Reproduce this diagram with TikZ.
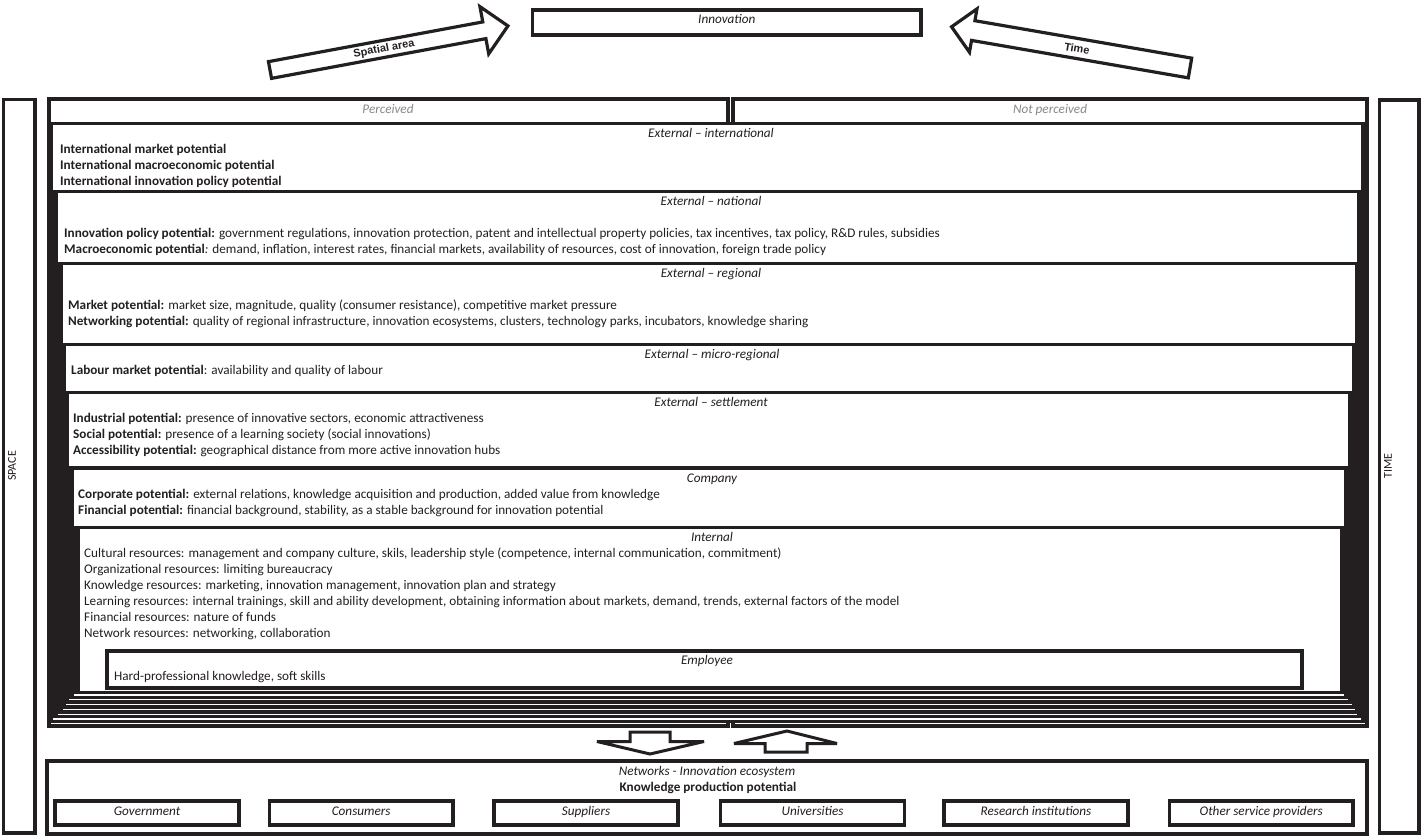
\documentclass[tikz,border=0pt]{standalone}
\usepackage{fontspec}
\setmainfont{Carlito}
\newfontfamily\arrowfont{Liberation Sans}
\definecolor{ink}{RGB}{35,31,32}
\definecolor{greytxt}{RGB}{137,137,137}
\def\bdw{3.6}
\newcommand\nestbox[6]{%
  \fill[ink] (#1,#3) rectangle (#2,#4);
  \fill[white] (#5,{#3+\bdw}) rectangle (#6,{#4-\bdw});}
\newcommand\txtsize{\fontsize{13.2}{15}\selectfont}
\begin{document}
\begin{tikzpicture}[x=1pt,y=-1pt,
  body/.style={anchor=base west, inner sep=0pt, text=ink, font=\txtsize},
  head/.style={anchor=base, inner sep=0pt, text=ink, font=\txtsize\itshape},
  frame/.style={draw=ink, line width=3.6pt, fill=white},
  blockarrow/.style={draw=ink, line width=3.2pt, fill=white, line join=miter, miter limit=6},
  arrowlabel/.style={inner sep=0pt, text=ink, font=\arrowfont\bfseries\fontsize{11}{13}\selectfont},
  sidelabel/.style={inner sep=0pt, text=ink, rotate=90, font=\fontsize{12}{14}\selectfont},
  actor/.style={frame, minimum width=183.8pt, minimum height=23.8pt, text height=7pt, text depth=3pt, inner sep=0pt, text=ink, font=\txtsize\itshape}
]
\useasboundingbox (0,0) rectangle (1424,836);
\fill[white] (0,0) rectangle (1424,836);

% side bars
\draw[frame] (3.5,99.3) rectangle (34.9,833.2);
\node[sidelabel] (space) at (12,466) {SPACE};
\draw[frame] (1379.3,99.8) rectangle (1419.2,833.2);
\node[sidelabel] (time) at (1388,466) {TIME};

% innovation and top arrows
\node[frame, minimum width=388.9pt, minimum height=25.4pt, text height=7pt, text depth=5pt, inner sep=0pt, text=ink, font=\txtsize\itshape] (innov) at (726.8,22.5) {Innovation};
\begin{scope}[shift={(270,70)}, rotate=10.5]
  \draw[blockarrow] (0,-8.5) -- (218,-8.5) -- (218,-24) -- (242,0) -- (218,24) -- (218,8.5) -- (0,8.5) -- cycle;
\end{scope}
\node[arrowlabel, rotate=10.5] (spatial) at (384,49) {Spatial area};
\begin{scope}[shift={(1190,68)}, rotate=170.2]
  \draw[blockarrow] (0,-10) -- (220,-10) -- (220,-22) -- (242,0) -- (220,22) -- (220,10) -- (0,10) -- cycle;
\end{scope}
\node[arrowlabel, rotate=-9.8] (timearrow) at (1077,48.5) {Time};

% perceived / not perceived tall boxes
\fill[ink] (47,97) rectangle (729.7,728);
\fill[white] (50.6,100.6) rectangle (726.1,724.4);
\fill[ink] (731.2,97) rectangle (1369,728);
\fill[white] (734.8,100.6) rectangle (1365.4,724.4);
\node[head, text=greytxt] (perc) at (388,113.3) {Perceived};
\node[head, text=greytxt] (nperc) at (1050,113.3) {Not perceived};

% nested levels
\nestbox{50.6}{1365.4}{121.7}{723.2}{53.3}{1361}
\nestbox{53.3}{1361}{189.7}{718.4}{58.3}{1356.7}
\nestbox{58.3}{1356.7}{261.7}{713.6}{62.7}{1355}
\nestbox{62.7}{1355}{342.5}{708.8}{66}{1351.7}
\nestbox{66}{1351.7}{390.5}{704}{69}{1348}
\nestbox{69}{1348}{466}{699.2}{74}{1344}
\nestbox{74}{1344}{525.5}{694.4}{79.5}{1340}
\fill[ink] (105,649) rectangle (1304,689.6);
\fill[white] (108.6,652.6) rectangle (1300.4,686);

% international
\node[head] (h1) at (711,137.3) {External -- international};
\node[body] (i1) at (60,153.3) {\bfseries International market potential};
\node[body] (i2) at (60,169.3) {\bfseries International macroeconomic potential};
\node[body] (i3) at (60,185.3) {\bfseries International innovation policy potential};
% national
\node[head] (h2) at (711,205.3) {External -- national};
\node[body] (n1) at (64,237.3) {\textbf{Innovation policy potential:} government regulations, innovation protection, patent and intellectual property policies, tax incentives, tax policy, R\&D rules, subsidies};
\node[body] (n2) at (64,253.3) {\textbf{Macroeconomic potential}\textit{:} demand, inflation, interest rates, financial markets, availability of resources, cost of innovation, foreign trade policy};
% regional
\node[head] (h3) at (711,277.3) {External -- regional};
\node[body] (r1) at (68,309.3) {\textbf{Market potential:} market size, magnitude, quality (consumer resistance), competitive market pressure};
\node[body] (r2) at (68,325.3) {\textbf{Networking potential:} quality of regional infrastructure, innovation ecosystems, clusters, technology parks, incubators, knowledge sharing};
% micro-regional
\node[head] (h4) at (712,358.3) {External -- micro-regional};
\node[body] (m1) at (71,374.3) {\textbf{Labour market potential}: availability and quality of labour};
% settlement
\node[head] (h5) at (711,406.3) {External -- settlement};
\node[body] (s1) at (73,422.3) {\textbf{Industrial potential:} presence of innovative sectors, economic attractiveness};
\node[body] (s2) at (73,438.3) {\textbf{Social potential:} presence of a learning society (social innovations)};
\node[body] (s3) at (73,454.3) {\textbf{Accessibility potential:} geographical distance from more active innovation hubs};
% company
\node[head] (h6) at (712,482.3) {Company};
\node[body] (c1) at (78,498.3) {\textbf{Corporate potential:} external relations, knowledge acquisition and production, added value from knowledge};
\node[body] (c2) at (78,514.3) {\textbf{Financial potential:} financial background, stability, as a stable background for innovation potential};
% internal
\node[head] (h7) at (712,541.3) {Internal};
\node[body] (in1) at (84,557.3) {Cultural resources: management and company culture, skils, leadership style (competence, internal communication, commitment)};
\node[body] (in2) at (84,573.3) {Organizational resources: limiting bureaucracy};
\node[body] (in3) at (84,589.3) {Knowledge resources: marketing, innovation management, innovation plan and strategy};
\node[body] (in4) at (84,605.3) {Learning resources: internal trainings, skill and ability development, obtaining information about markets, demand, trends, external factors of the model};
\node[body] (in5) at (84,621.3) {Financial resources: nature of funds};
\node[body] (in6) at (84,637.3) {Network resources: networking, collaboration};
% employee
\node[head] (h8) at (707,664.3) {Employee};
\node[body] (e1) at (114,680.3) {Hard-professional knowledge, soft skills};

% bottom block arrows
\draw[blockarrow, line width=3pt] (630,732) -- (670,732) -- (670,741.5) -- (704,741.5) -- (650,754) -- (597,741.5) -- (630,741.5) -- cycle;
\draw[blockarrow, line width=3pt] (765,752) -- (807,752) -- (807,743.5) -- (837,743.5) -- (787,731) -- (734,743.5) -- (765,743.5) -- cycle;

% networks
\draw[frame] (46.8,760.8) rectangle (1366.7,833.7);
\node[head] (net) at (707,775.5) {Networks - Innovation ecosystem};
\node[head, font=\txtsize\bfseries] (kpp) at (708,791.5) {Knowledge production potential};
\node[actor] (gov) at (147,813) {Government};
\node[actor] (cons) at (361.2,813) {Consumers};
\node[actor] (supp) at (586,813) {Suppliers};
\node[actor] (univ) at (812.5,813) {Universities};
\node[actor] (res) at (1036,813) {Research institutions};
\node[actor] (oth) at (1261.2,813) {Other service providers};
\end{tikzpicture}
\end{document}
